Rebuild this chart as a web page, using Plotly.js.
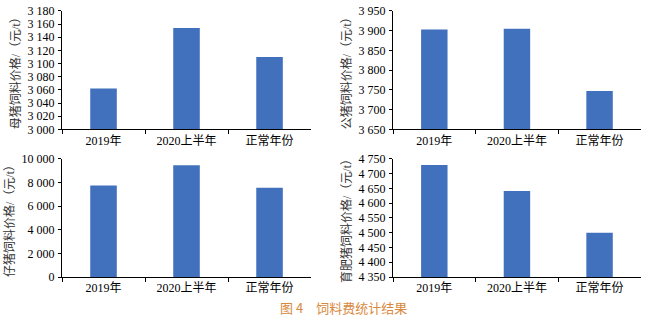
<!DOCTYPE html>
<html><head><meta charset="utf-8">
<script src="https://cdn.plot.ly/plotly-3.0.1.min.js"></script>
<style>html,body{margin:0;padding:0;background:#fff;}#c{width:648px;height:321px;}</style>
</head><body><div id="c"></div>
<script>
const categories = ['2019年', '2020上半年', '正常年份'];
const sowFeed = [3062, 3154, 3110];
const boarFeed = [3903, 3905, 3747];
const pigletFeed = [7740, 9460, 7550];
const finishingFeed = [4729, 4641, 4500];
const yTitles = ['母猪饲料价格/（元/t）', '公猪饲料价格/（元/t）', '仔猪饲料价格/（元/t）', '育肥猪饲料价格/（元/t）'];
const caption = '图 4　饲料费统计结果';

const color = '#4170bd';
const fontFam = '"Liberation Serif", "Noto Sans CJK SC", serif';
const series = [sowFeed, boarFeed, pigletFeed, finishingFeed];
const axes = [['x','y'],['x2','y2'],['x3','y3'],['x4','y4']];
const data = series.map((v,i)=>({type:'bar', x:categories, y:v, xaxis:axes[i][0], yaxis:axes[i][1], marker:{color:color}, hoverinfo:'none'}));

function xa(dom, anchor){return {domain:dom, anchor:anchor, showline:true, linecolor:'#000', linewidth:1, ticks:'outside', tickson:'boundaries', ticklen:4, tickcolor:'#000', tickfont:{family:fontFam,size:12,color:'#000'}, showgrid:false, zeroline:false, fixedrange:true};}
function ya(dom, anchor, range, dtick, title, standoff){return {domain:dom, anchor:anchor, range:range, dtick:dtick, tick0:range[0], showline:true, linecolor:'#000', linewidth:1, ticks:'outside', ticklen:3, tickcolor:'#000', tickformat:',d', tickfont:{family:fontFam,size:12,color:'#000'}, showgrid:false, zeroline:false, fixedrange:true, ticklabelstandoff:1, title:{text:title, standoff:standoff, font:{family:fontFam,size:12,color:'#333'}}};}

const xL=[0.0957,0.48], xR=[0.6065,0.989];
const yT=[0.597,0.966], yB=[0.137,0.505];
const layout = {
  width:648, height:321, margin:{l:0,r:0,t:0,b:0}, showlegend:false,
  paper_bgcolor:'#fff', plot_bgcolor:'#fff', separators:'. ', bargap:0.68,
  xaxis:xa(xL,'y'), yaxis:ya(yT,'x',[3000,3180],20,yTitles[0],4),
  xaxis2:xa(xR,'y2'), yaxis2:ya(yT,'x2',[3650,3950],50,yTitles[1],4),
  xaxis3:xa(xL,'y3'), yaxis3:ya(yB,'x3',[0,10000],2000,yTitles[2],4),
  xaxis4:xa(xR,'y4'), yaxis4:ya(yB,'x4',[4350,4750],50,yTitles[3],4),
  annotations:[
    {text:caption, x:343/648, y:1-307/321, xref:'paper', yref:'paper', xanchor:'center', yanchor:'middle', showarrow:false, font:{family:'"Noto Sans CJK SC", sans-serif',size:13,color:'#d9893d'}}
  ]
};
Plotly.newPlot('c', data, layout, {staticPlot:true, displayModeBar:false});
</script></body></html>
